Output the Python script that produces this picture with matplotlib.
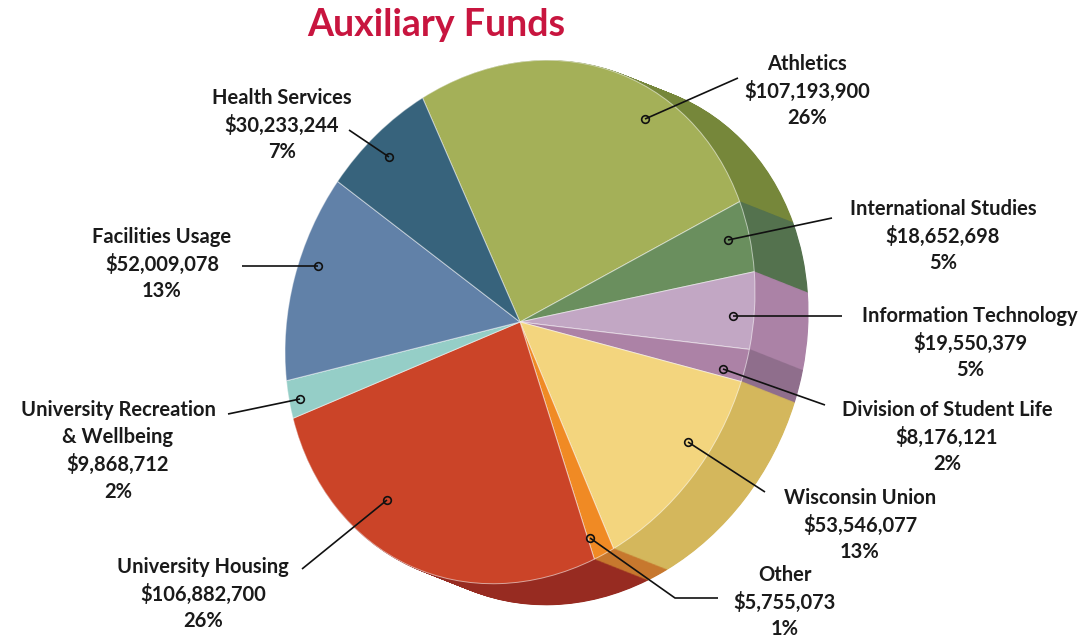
import matplotlib
matplotlib.use("Agg")
import matplotlib.pyplot as plt
from matplotlib.transforms import Affine2D

# ---------------- data ----------------
categories = ["Athletics", "International Studies", "Information Technology",
              "Division of Student Life", "Wisconsin Union", "Other",
              "University Housing", "University Recreation\n& Wellbeing",
              "Facilities Usage", "Health Services"]
values = [107193900, 18652698, 19550379, 8176121, 53546077, 5755073,
          106882700, 9868712, 52009078, 30233244]
top_colors = ["#A4B058", "#6A8F5E", "#C2A7C4", "#AC82A6", "#F3D57E", "#F08A24",
              "#CB4428", "#95CEC7", "#6181A8", "#37637C"]
side_colors = ["#76873A", "#54724E", "#AB82A6", "#8F6E8C", "#D4B75C", "#C7782E",
               "#972B21", "#6FA8A1", "#46668C", "#274B60"]

# ---------------- layout ----------------
W, H = 1089, 639
CX, CY = 520, 322          # pie centre in pixels
RX, RY, SH = 235, 260, 30  # top-face ellipse (affine of unit circle)
DX, DY = 53, 21            # depth offset (px, right / down)
START = 114.5

fig = plt.figure(figsize=(W / 100, H / 100), dpi=100)
ax = fig.add_axes([0, 0, 1, 1], facecolor="none")


def draw_pie(colors, ox, oy, edge=None, lw=0.8):
    wedges, _ = ax.pie(values, colors=colors, startangle=START,
                       counterclock=False, radius=1, frame=True,
                       wedgeprops=dict(linewidth=lw))
    tr = Affine2D.from_values(RX, -SH, 0, -RY, CX + ox, CY + oy) + ax.transData
    for w, c in zip(wedges, colors):
        w.set_transform(tr)
        w.set_edgecolor(edge if edge is not None else c)
    return wedges


# extrusion: stacked darker copies
N = 60
for k in range(N, 0, -1):
    t = k / N
    draw_pie(side_colors, t * DX, t * DY)
# top face
draw_pie(top_colors, 0, 0, edge=(1, 1, 1, 0.55), lw=0.7)

ax.set_xlim(0, W)
ax.set_ylim(H, 0)
ax.set_aspect("auto")
ax.axis("off")

# ---------------- labels ----------------
total = sum(values)
# (label centre x, label centre y, dot x, dot y, line end x, line end y, elbow)
label_layout = [
    (807, 91, 645, 119, 738, 78, None),
    (943, 236, 728, 240, 832, 218, None),
    (970, 343, 733, 316, 842, 316, None),
    (947, 437, 723, 369, 825, 405, None),
    (860, 525, 688, 442, 765, 492, None),
    (785, 602, 590, 538, 675, 598, (718, 598)),
    (203, 594, 387, 500, 302, 569, None),
    (118, 451, 300, 399, 228, 414, None),
    (162, 264, 318, 266, 242, 266, None),
    (282, 125, 389, 157, 349, 130, None),
]

font = "Lato"
for name, v, lay in zip(categories, values, label_layout):
    lx, ly, dx_, dy_, ex, ey, elbow = lay
    pct = round(v / total * 100)
    txt = f"{name}\n${v:,}\n{pct}%"
    ax.text(lx, ly, txt, ha="center", va="center", fontsize=14.5,
            fontweight="bold", family=font, color="#1a1a1a", linespacing=1.42)
    xs = [dx_, ex] + ([elbow[0]] if elbow else [])
    ys = [dy_, ey] + ([elbow[1]] if elbow else [])
    ax.plot(xs, ys, color="#111111", lw=1.2, solid_capstyle="butt")
    ax.plot([dx_], [dy_], marker="o", ms=5.5, mfc="none", mec="#111111", mew=1.2)

ax.text(436, 25, "Auxiliary Funds", ha="center", va="center", fontsize=27,
        fontweight="bold", family=font, color="#C8153F")

fig.savefig("out.png", dpi=100)
